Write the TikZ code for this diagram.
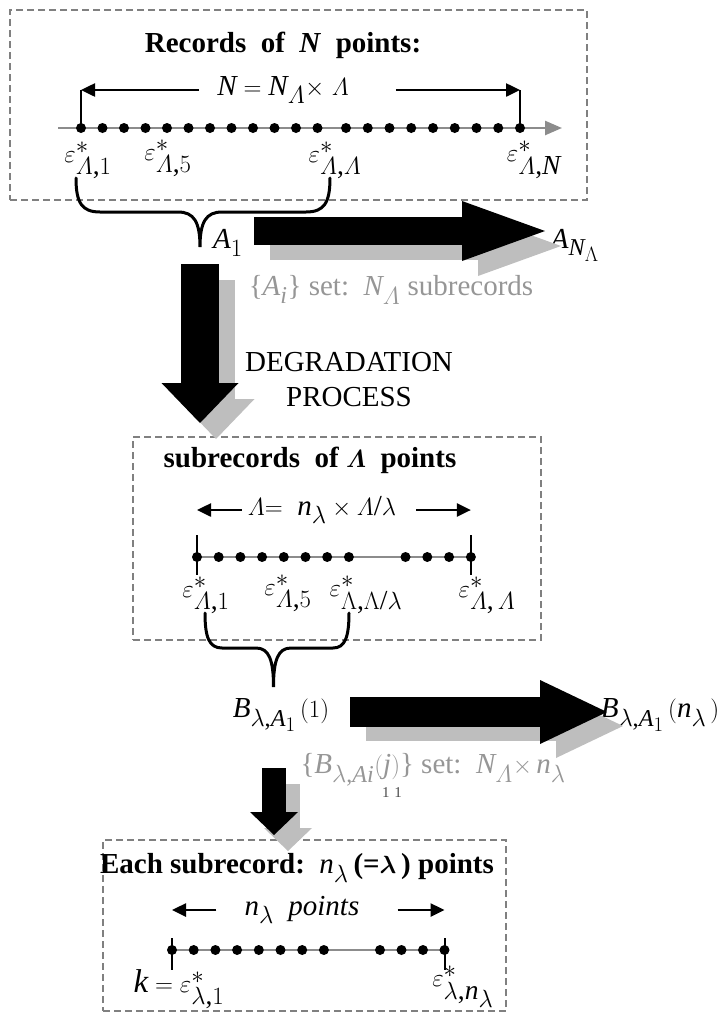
\documentclass[tikz,border=0pt]{standalone}
\usepackage{amsmath}
\usepackage{fontspec}
\setmainfont{Liberation Serif}
\usepackage[italic]{mathastext}
\usetikzlibrary{arrows.meta}
\definecolor{boxgrey}{RGB}{128,128,128}
\definecolor{axisgrey}{RGB}{140,140,140}
\definecolor{shadegrey}{RGB}{190,190,190}
\definecolor{notegrey}{RGB}{150,150,150}
\tikzset{
  recbox/.style={draw=boxgrey, line width=1.3pt, dash pattern=on 7pt off 4pt,
    inner sep=0pt},
  axisline/.style={draw=axisgrey, line width=2.5pt},
  subline/.style={draw=axisgrey, line width=2pt},
  sample/.style={circle, fill=black, inner sep=0pt, minimum size=10pt},
  tickline/.style={line width=2pt},
  dimarrow/.style={line width=2.5pt, -{Triangle[length=14pt,width=13pt]}},
  brace/.style={line width=3pt, line cap=round},
  reclabel/.style={font=\fontsize{29}{35}\selectfont\bfseries, inner sep=0pt},
  txt/.style={font=\fontsize{29}{35}\selectfont, inner sep=0pt},
  epslabel/.style={font=\fontsize{33}{38}\selectfont, inner sep=0pt},
  note/.style={txt, text=notegrey},
  blockarrow/.style={draw=black},
  shadearrow/.style={draw=shadegrey},
}

\begin{document}
\begin{tikzpicture}[x=1pt, y=-1pt]
  \useasboundingbox (0,0) rectangle (728,1018);

  % frames
  \node[recbox, minimum width=577pt, minimum height=190pt] (box1) at (298.5,105) {};
  \node[recbox, minimum width=408pt, minimum height=203pt] (box2) at (337,538.5) {};
  \node[recbox, minimum width=403pt, minimum height=171pt] (box3) at (304.5,925.5) {};

  % records of N points
  \node[reclabel] (rectitle) at (283,45) {Records\ \ of\ \ \textit{N}\ \ points:};
  \node[txt] (Neq) at (283,90) {$N = N_{\varLambda}{\times}\ \varLambda$};
  \coordinate (ax0) at (58,128);
  \coordinate (ax1) at (562,128);
  \draw[axisline, -{Triangle[length=17pt,width=14pt]}] (ax0) -- (ax1);
  \foreach \i in {1,...,12}
    \node[sample] (a\i) at ({81+21.5*(\i-1)},128) {};
  \foreach \i in {13,...,21}
    \node[sample] (a\i) at ({346+21.75*(\i-13)},128) {};
  \draw[tickline] (a1.center) -- (a1 |- Neq);
  \draw[tickline] (a21.center) -- (a21 |- Neq);
  \draw[dimarrow] ([xshift=-18pt]Neq.west) -- (a1 |- Neq);
  \draw[dimarrow] ([xshift=47pt]Neq.east) -- (a21 |- Neq);
  \node[epslabel] (e11) at (88,160) {$\varepsilon^{*}_{\varLambda,1}$};
  \node[epslabel] (e15) at (168,158) {$\varepsilon^{*}_{\varLambda,5}$};
  \node[epslabel] (e1m) at (335,160) {$\varepsilon^{*}_{\varLambda,\varLambda}$};
  \node[epslabel] (e1n) at (534,160) {$\varepsilon^{*}_{\varLambda,N}$};
  \draw[brace] (76,178) .. controls (76,203) and (82,212) .. (100,212) -- (178,212)
    .. controls (194,212) and (200,222) .. (200,247)
    .. controls (200,222) and (206,212) .. (222,212) -- (306,212)
    .. controls (324,212) and (330,203) .. (330,178);
  \node[txt] (A1) at (228,243) {$A_1$};
  \node[txt] (AN) at (575,245) {$A_{N_{\Lambda}}$};
  \node[note] (Aset) at (391,290) {$\{A_i\}$ set:\ \ $N_{\varLambda}$ subrecords};
  \node[txt, align=center] (degr) at (349,380) {DEGRADATION\\PROCESS};

  % subrecords of Lambda points
  \node[reclabel] (subtitle) at (310,460) {subrecords\ \ of\ $\boldsymbol{\varLambda}$\ \ points};
  \node[txt] (Lameq) at (322,510) {$\varLambda{=}\ \ n_{\lambda} \times \varLambda/\lambda$};
  \coordinate (s2a) at (197,557);
  \coordinate (s2b) at (471,557);
  \draw[subline] (s2a) -- (s2b);
  \foreach \i in {1,...,8}
    \node[sample] (b\i) at ({197+21.7*(\i-1)},557) {};
  \foreach \i in {9,...,12}
    \node[sample] (b\i) at ({405.5+21.8*(\i-9)},557) {};
  \draw[tickline] ([yshift=22pt]b1.center) -- ([yshift=-18pt]b1.center);
  \draw[tickline] ([yshift=22pt]b12.center) -- ([yshift=-18pt]b12.center);
  \draw[dimarrow] ([xshift=-6pt]Lameq.west) -- (b1 |- Lameq);
  \draw[dimarrow] ([xshift=20pt]Lameq.east) -- (b12 |- Lameq);
  \node[epslabel] (e21) at (206,595) {$\varepsilon^{*}_{\varLambda,1}$};
  \node[epslabel] (e25) at (288,593) {$\varepsilon^{*}_{\varLambda,5}$};
  \node[epslabel] (e2m) at (366,595) {$\varepsilon^{*}_{\Lambda,\Lambda/\lambda}$};
  \node[epslabel] (e2n) at (487,595) {$\varepsilon^{*}_{\varLambda,\,\varLambda}$};
  \draw[brace] (205,613) .. controls (205,637) and (209,648) .. (222,648) -- (256,648)
    .. controls (269,648) and (273.5,660) .. (273.5,687)
    .. controls (273.5,660) and (278,648) .. (291,648) -- (333,648)
    .. controls (345,648) and (349,637) .. (349,613);
  \node[txt] (B1) at (281,715) {$B_{\lambda,A_1}\,(1)$};
  \node[txt] (Bn) at (660,715) {$B_{\lambda,A_1}\,(n_{\lambda}\,)$};
  \node[note] (Bset) at (433,770) {$\{B_{\lambda,Ai}(j)\}$ set:\ \ $N_{\varLambda}{\times}\,n_{\lambda}$};
  \node[txt, font=\fontsize{15}{17}\selectfont, text=black!70] (ones) at (392,793) {1\,\,1};

  % each subrecord
  \node[reclabel] (eachtitle) at (297,868)
    {Each subrecord:\ \ \mdseries$n_{\lambda}$\,\bfseries(=$\boldsymbol{\lambda}$\,) points};
  \node[txt] (npts) at (302,910) {$n_{\lambda}$\ \ \textit{points}};
  \coordinate (s3a) at (172,950);
  \coordinate (s3b) at (444.5,950);
  \draw[subline] (s3a) -- (s3b);
  \foreach \i in {1,...,8}
    \node[sample] (c\i) at ({172+21.7*(\i-1)},950) {};
  \foreach \i in {9,...,12}
    \node[sample] (c\i) at ({380+21.5*(\i-9)},950) {};
  \draw[tickline] ([yshift=12pt]c1.center) -- ([yshift=-20pt]c1.center);
  \draw[tickline] ([yshift=12pt]c12.center) -- ([yshift=-20pt]c12.center);
  \draw[dimarrow] ([xshift=-28pt]npts.west) -- (c1 |- npts);
  \draw[dimarrow] ([xshift=38pt]npts.east) -- (c12 |- npts);
  \node[epslabel] (ek) at (179,989) {$k = \varepsilon^{*}_{\lambda,1}$};
  \node[epslabel] (en) at (463,987) {$\varepsilon^{*}_{\lambda,n_{\lambda}}$};

  % block arrows with their shadows
  \coordinate (r1s) at (254,231);
  \coordinate (r1e) at (545,231);
  \coordinate (d1s) at (200,264);
  \coordinate (d1e) at (200,423);
  \coordinate (r2s) at (350,712);
  \coordinate (r2e) at (607,712);
  \coordinate (d2s) at (274,768);
  \coordinate (d2e) at (274,835);
  \draw[shadearrow, line width=28pt, -{Triangle[length=83pt,width=60pt,line width=0pt]}]
    ([xshift=16pt,yshift=-15pt]r1s) -- ([xshift=16pt,yshift=-15pt]r1e);
  \draw[shadearrow, line width=38pt, -{Triangle[length=40pt,width=77pt,line width=0pt]}]
    ([xshift=16pt,yshift=-16pt]d1s) -- ([xshift=16pt,yshift=-16pt]d1e);
  \draw[shadearrow, line width=30pt, -{Triangle[length=67pt,width=64pt,line width=0pt]}]
    ([xshift=16pt,yshift=-14pt]r2s) -- ([xshift=16pt,yshift=-14pt]r2e);
  \draw[shadearrow, line width=24pt, -{Triangle[length=23pt,width=48pt,line width=0pt]}]
    ([xshift=14pt,yshift=-16pt]d2s) -- ([xshift=14pt,yshift=-16pt]d2e);
  \draw[blockarrow, line width=28pt, -{Triangle[length=83pt,width=60pt,line width=0pt]}] (r1s) -- (r1e);
  \draw[blockarrow, line width=38pt, -{Triangle[length=40pt,width=77pt,line width=0pt]}] (d1s) -- (d1e);
  \draw[blockarrow, line width=30pt, -{Triangle[length=67pt,width=64pt,line width=0pt]}] (r2s) -- (r2e);
  \draw[blockarrow, line width=24pt, -{Triangle[length=23pt,width=48pt,line width=0pt]}] (d2s) -- (d2e);
\end{tikzpicture}
\end{document}
